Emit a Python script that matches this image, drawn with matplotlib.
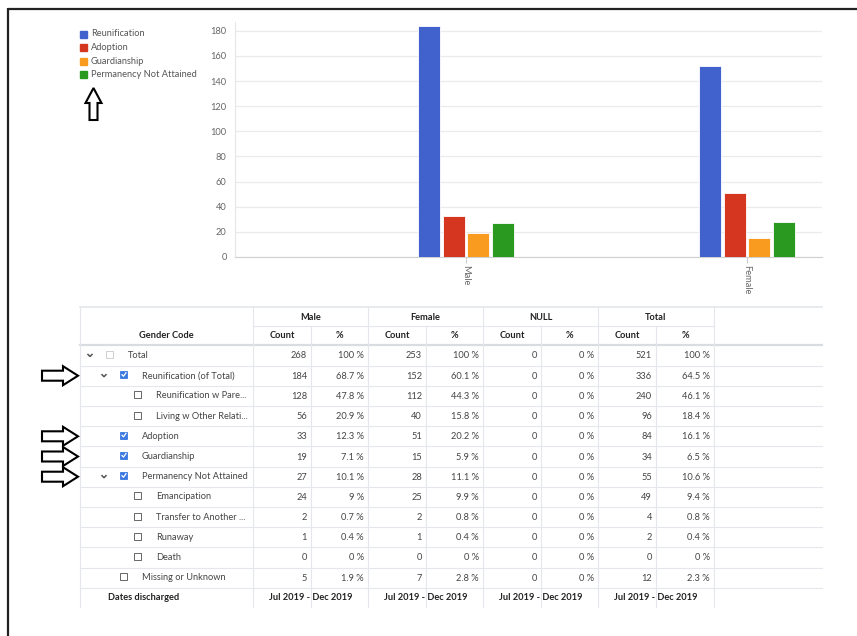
import matplotlib.pyplot as plt
from matplotlib.patches import Polygon, Rectangle
import numpy as np

plt.rcParams['font.family'] = ['Lato', 'DejaVu Sans']

# table data
row_labels = ["Total", "Reunification (of Total)", "Reunification w Pare...",
              "Living w Other Relati...", "Adoption", "Guardianship",
              "Permanency Not Attained", "Emancipation", "Transfer to Another ...",
              "Runaway", "Death", "Missing or Unknown"]
row_level = [0, 1, 2, 2, 1, 1, 1, 2, 2, 2, 2, 1]
row_checked = [False, True, False, False, True, True, True, False, False, False, False, False]
row_expand = [True, True, False, False, False, False, True, False, False, False, False, False]
male_count = [268, 184, 128, 56, 33, 19, 27, 24, 2, 1, 0, 5]
male_pct = [100, 68.7, 47.8, 20.9, 12.3, 7.1, 10.1, 9, 0.7, 0.4, 0, 1.9]
female_count = [253, 152, 112, 40, 51, 15, 28, 25, 2, 1, 0, 7]
female_pct = [100, 60.1, 44.3, 15.8, 20.2, 5.9, 11.1, 9.9, 0.8, 0.4, 0, 2.8]
null_count = [0] * 12
null_pct = [0] * 12
total_count = [521, 336, 240, 96, 84, 34, 55, 49, 4, 2, 0, 12]
total_pct = [100, 64.5, 46.1, 18.4, 16.1, 6.5, 10.6, 9.4, 0.8, 0.4, 0, 2.3]
groups = ["Male", "Female", "NULL", "Total"]
period = "Jul 2019 - Dec 2019"

# chart data
genders = ["Male", "Female"]
series = ["Reunification", "Adoption", "Guardianship", "Permanency Not Attained"]
values = {
    "Reunification": [184, 152],
    "Adoption": [33, 51],
    "Guardianship": [19, 15],
    "Permanency Not Attained": [27, 28],
}
colors = ["#4162cd", "#d5361f", "#f89b1e", "#2a991f"]

W, H = 857, 636
FS = 6.7
fig = plt.figure(figsize=(W / 100, H / 100), dpi=100)

# background axes in pixel coordinates
bg = fig.add_axes([0, 0, 1, 1])
bg.set_xlim(0, W)
bg.set_ylim(H, 0)
bg.axis("off")

# border
bg.plot([8, W], [8.5, 8.5], color="#222", lw=1.6, solid_capstyle="butt")
bg.plot([8.5, 8.5], [8, H], color="#222", lw=1.6, solid_capstyle="butt")

# chart
ax = fig.add_axes([235 / W, (H - 257) / H, 587 / W, (257 - 22) / H])
ax.patch.set_alpha(0)
x = np.arange(len(genders))
bw = 0.079
step = 0.0875
for i, s in enumerate(series):
    ax.bar(x + (i - 1.5) * step, values[s], width=bw, color=colors[i],
           edgecolor="white", linewidth=0.6, zorder=3)
ax.set_xlim(-0.822, 1.267)
ax.set_ylim(0, 187)
ax.set_yticks(range(0, 181, 20))
ax.set_xticks(x)
ax.set_xticklabels(genders, rotation=270, fontsize=FS, color="#666")
ax.tick_params(axis="y", labelsize=FS, labelcolor="#666", length=0, pad=6)
ax.tick_params(axis="x", length=4, color="#ccc", pad=2)
ax.grid(axis="y", color="#ebebeb", lw=0.9, zorder=0)
for sp in ["top", "right"]:
    ax.spines[sp].set_visible(False)
ax.spines["left"].set_color("#e6e6e6")
ax.spines["bottom"].set_color("#d0d0d0")

# legend
for i, s in enumerate(series):
    y = 34 + i * 13.5
    bg.add_patch(Rectangle((80, y - 3.5), 7, 7, color=colors[i]))
    bg.text(91, y, s, fontsize=FS, color="#555", va="center")

# up arrow
up = [(93.5, 88), (101.5, 103), (97.5, 103), (97.5, 120), (89.5, 120), (89.5, 103), (85.5, 103)]
bg.add_patch(Polygon(up, closed=True, fc="white", ec="black", lw=1.5))

# table grid
line_c = "#e4e7eb"
tl, tr = 80, 822
col_x = [253, 311, 368, 426, 483, 541, 598, 656, 714]
row_y = [355.5 + 20.2 * i for i in range(12)]
bg.plot([tl, tr], [307, 307], color=line_c, lw=1.2)
bg.plot([253, 714], [326, 326], color=line_c, lw=0.8)
bg.plot([tl, tr], [345, 345], color="#d9dde2", lw=1.6)
for i in range(12):
    y = row_y[i] + 10.1
    bg.plot([tl, tr], [y, y], color=line_c, lw=0.8)
bg.plot([tl, tl], [307, 607], color=line_c, lw=0.8)
for j, cx in enumerate(col_x):
    top = 326 if j % 2 == 1 else 307
    bg.plot([cx, cx], [top, 607], color=line_c, lw=0.8)

# headers
hdr = dict(fontsize=FS, fontweight="bold", color="#222", ha="center", va="center")
bg.text(166, 336, "Gender Code", **hdr)
for g, name in enumerate(groups):
    a, b, c = col_x[2 * g], col_x[2 * g + 1], col_x[2 * g + 2]
    bg.text((a + c) / 2, 317, name, **hdr)
    bg.text((a + b) / 2, 336, "Count", **hdr)
    bg.text((b + c) / 2, 336, "%", **hdr)

# rows
txt = dict(fontsize=FS, color="#444", va="center")
cols = [male_count, male_pct, female_count, female_pct,
        null_count, null_pct, total_count, total_pct]
for i, lab in enumerate(row_labels):
    y = row_y[i]
    lvl = row_level[i]
    cbx = 110 + 14 * lvl
    bg.text(cbx + 18, y, lab, **txt)
    if row_expand[i]:
        ex = cbx - 20
        bg.plot([ex - 2, ex, ex + 2], [y - 1, y + 1, y - 1], color="#555", lw=1.1)
    if row_checked[i]:
        bg.add_patch(Rectangle((cbx - 3.5, y - 4.5), 7, 7, fc="#3b78e0", ec="#3b78e0", lw=0.6))
        bg.plot([cbx - 2, cbx - 0.5, cbx + 2], [y - 1, y + 0.6, y - 3], color="white", lw=0.9)
    else:
        ec = "#d0d0d0" if i == 0 else "#666"
        bg.add_patch(Rectangle((cbx - 3.5, y - 4.5), 7, 7, fc="white", ec=ec, lw=0.7))
    for k, col in enumerate(cols):
        v = col[i]
        s = f"{v:g} %" if k % 2 == 1 else f"{v}"
        bg.text(col_x[k + 1] - 4, y + 0.5, s, ha="right", **txt)

# dates row
yd = 597
bg.text(144, yd, "Dates discharged", **hdr)
for g in range(4):
    a, c = col_x[2 * g], col_x[2 * g + 2]
    bg.text((a + c) / 2, yd, period, **hdr)

# side arrows
for i in [1, 4, 5, 6]:
    y = row_y[i]
    pts = [(42, y - 5), (63, y - 5), (63, y - 9.5), (78, y), (63, y + 9.5),
           (63, y + 5), (42, y + 5)]
    bg.add_patch(Polygon(pts, closed=True, fc="white", ec="black", lw=1.5))

fig.savefig("out.png", dpi=100)
